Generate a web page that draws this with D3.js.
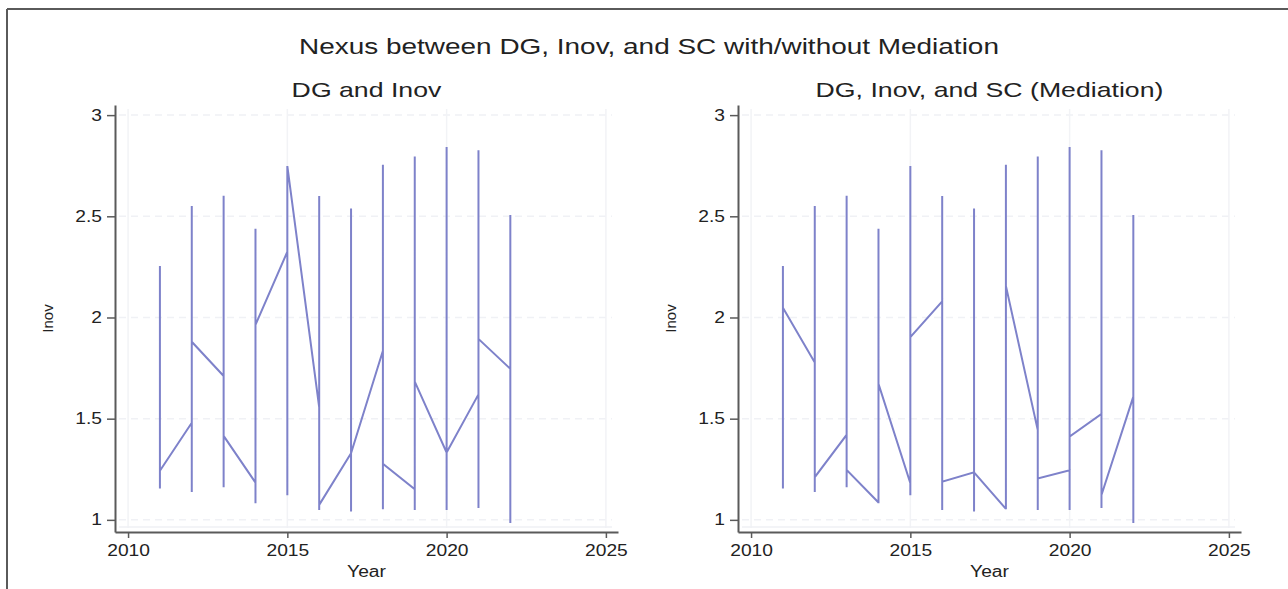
<!DOCTYPE html>
<html>
<head>
<meta charset="utf-8">
<script src="https://cdn.jsdelivr.net/npm/d3@7"></script>
<style>
  html, body { margin: 0; padding: 0; background: #fff; }
  svg { display: block; font-family: "Liberation Sans", Arial, Helvetica, sans-serif; }
</style>
</head>
<body>
<svg id="chart" width="1288" height="589"></svg>
<script>
// Panel data: Inov observations per year, drawn in data order
const years = [2011, 2012, 2013, 2014, 2015, 2016, 2017, 2018, 2019, 2020, 2021, 2022];
const inovLow  = [1.155, 1.138, 1.161, 1.082, 1.122, 1.049, 1.041, 1.053, 1.049, 1.049, 1.059, 0.984];
const inovHigh = [2.254, 2.551, 2.602, 2.439, 2.748, 2.600, 2.539, 2.755, 2.796, 2.842, 2.826, 2.506];

// first / last observation of each year (DG and Inov)
const dgFirst = [1.155, 1.480, 1.711, 1.184, 2.325, 1.556, 1.329, 1.836, 1.151, 1.333, 1.620, 1.746];
const dgLast  = [1.243, 1.880, 1.415, 1.963, 2.748, 1.074, 1.329, 1.277, 1.683, 1.333, 1.894, 0.984];

// first / last observation of each year (mediation model)
const medFirst = [1.155, 1.777, 1.420, 1.086, 1.181, 2.080, 1.235, 1.054, 1.444, 1.245, 1.523, 1.609];
const medLast  = [2.048, 1.211, 1.247, 1.672, 1.903, 1.189, 1.235, 2.156, 1.204, 1.412, 1.123, 0.984];

const yTicks = [1, 1.5, 2, 2.5, 3];
const xTicks = [2010, 2015, 2020, 2025];

const mainTitle = "Nexus between DG, Inov, and SC with/without Mediation";
const panels = [
  { title: "DG and Inov", first: dgFirst, last: dgLast, x0: 115 },
  { title: "DG, Inov, and SC (Mediation)", first: medFirst, last: medLast, x0: 738 }
];

const STRETCH = 1.27;
const axisColor = "#5a5a5a";
const lineColor = "#7e82ca";

const svg = d3.select("#chart");

function stretch(sel, k) {
  sel.each(function () {
    const L = this.getComputedTextLength();
    d3.select(this).attr("textLength", L * k).attr("lengthAdjust", "spacingAndGlyphs");
  });
}

// outer frame (top and left edges)
svg.append("line").attr("x1", 7).attr("x2", 1288).attr("y1", 9).attr("y2", 9)
  .attr("stroke", axisColor).attr("stroke-width", 2);
svg.append("line").attr("x1", 7).attr("x2", 7).attr("y1", 9).attr("y2", 589)
  .attr("stroke", axisColor).attr("stroke-width", 2);

// overall title
svg.append("text").attr("x", 649).attr("y", 54).attr("text-anchor", "middle")
  .attr("font-size", 22).attr("fill", "#222").text(mainTitle).call(stretch, STRETCH);

const plotW = 503, plotTop = 105, plotBottom = 532;

panels.forEach(p => {
  const x = d3.scaleLinear().domain([2009.59, 2025.38]).range([p.x0, p.x0 + plotW]);
  const y = d3.scaleLinear().domain([0.94, 3.05]).range([plotBottom, plotTop]);
  const g = svg.append("g");

  // faint grid
  g.selectAll(".hg").data(yTicks).join("line")
    .attr("x1", p.x0 + 4).attr("x2", p.x0 + plotW - 6)
    .attr("y1", d => y(d)).attr("y2", d => y(d))
    .attr("stroke", "#f0f1f5").attr("stroke-width", 1.5).attr("stroke-dasharray", "7,5");
  g.selectAll(".vg").data(xTicks).join("line")
    .attr("x1", d => x(d)).attr("x2", d => x(d))
    .attr("y1", plotTop + 4).attr("y2", plotBottom - 4)
    .attr("stroke", "#f2f3f6").attr("stroke-width", 1.5);
  g.append("line").attr("x1", p.x0 + 4).attr("x2", p.x0 + plotW - 6)
    .attr("y1", plotBottom - 5).attr("y2", plotBottom - 5)
    .attr("stroke", "#eff0f4").attr("stroke-width", 1.5);

  // path through each year's observations
  const pts = [];
  years.forEach((yr, i) => {
    pts.push([yr, p.first[i]], [yr, inovLow[i]], [yr, inovHigh[i]], [yr, p.last[i]]);
  });
  g.append("path").datum(pts)
    .attr("d", d3.line().x(d => x(d[0])).y(d => y(d[1])))
    .attr("fill", "none").attr("stroke", lineColor).attr("stroke-width", 2)
    .attr("stroke-linejoin", "miter");

  // axes
  const ya = g.append("g").attr("transform", `translate(${p.x0},0)`)
    .call(d3.axisLeft(y).tickValues(yTicks).tickFormat(d3.format("")).tickSize(8).tickSizeOuter(0).tickPadding(5));
  const xa = g.append("g").attr("transform", `translate(0,${plotBottom})`)
    .call(d3.axisBottom(x).tickValues(xTicks).tickFormat(d3.format("d")).tickSize(6).tickSizeOuter(0).tickPadding(7));
  [ya, xa].forEach(a => {
    a.select(".domain").attr("stroke", axisColor).attr("stroke-width", 2);
    a.selectAll(".tick line").attr("stroke", axisColor).attr("stroke-width", 1.5);
    a.selectAll(".tick text").attr("font-size", 16).attr("fill", "#222")
      .attr("font-family", "Liberation Sans, Arial, sans-serif").call(stretch, 1.2);
  });

  // panel title and axis titles
  g.append("text").attr("x", p.x0 + plotW / 2).attr("y", 97).attr("text-anchor", "middle")
    .attr("font-size", 21).attr("fill", "#222").text(p.title).call(stretch, STRETCH);
  g.append("text").attr("x", p.x0 + plotW / 2).attr("y", 577).attr("text-anchor", "middle")
    .attr("font-size", 16).attr("fill", "#222").text("Year").call(stretch, 1.2);
  g.append("text").attr("transform", `translate(${p.x0 - 62},${(plotTop + plotBottom) / 2}) rotate(-90)`)
    .attr("text-anchor", "middle").attr("font-size", 15).attr("fill", "#222").text("Inov");
});
</script>
</body>
</html>
